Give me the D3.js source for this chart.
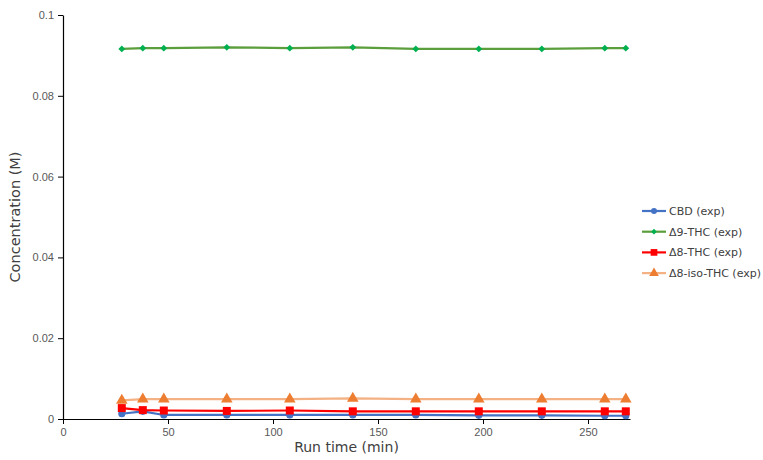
<!DOCTYPE html>
<html>
<head>
<meta charset="utf-8">
<script src="https://cdn.jsdelivr.net/npm/d3@7"></script>
<style>
  html, body { margin: 0; padding: 0; background: #fff; }
  svg { display: block; font-family: "DejaVu Sans", "Open Sans", sans-serif; }
</style>
</head>
<body>
<svg id="chart" width="763" height="460"></svg>
<script>
// Run times (min) of the samples
const runTimes = [28, 38, 48, 78, 108, 138, 168, 198, 228, 258, 268];

// Measured concentrations (M)
const cbd      = [0.0013, 0.0019, 0.0010, 0.0010, 0.0010, 0.0010, 0.0010, 0.0009, 0.0009, 0.0008, 0.0008];
const d9thc    = [0.0916, 0.0918, 0.0918, 0.0920, 0.0918, 0.0920, 0.0916, 0.0916, 0.0916, 0.0918, 0.0918];
const d8thc    = [0.0027, 0.0022, 0.0021, 0.0020, 0.0021, 0.0019, 0.0019, 0.0019, 0.0019, 0.0019, 0.0019];
const d8isothc = [0.0046, 0.0049, 0.0049, 0.0049, 0.0049, 0.0051, 0.0049, 0.0049, 0.0049, 0.0049, 0.0049];

const seriesNames = ["CBD (exp)", "\u03949-THC (exp)", "\u03948-THC (exp)", "\u03948-iso-THC (exp)"];

const xTicks = [0, 50, 100, 150, 200, 250];
const yTicks = [0, 0.02, 0.04, 0.06, 0.08, 0.1];

const series = [
  { name: seriesNames[0], values: cbd,      line: "#4472C4", fill: "#4472C4", symbol: d3.symbolCircle,   size: 40 },
  { name: seriesNames[1], values: d9thc,    line: "#5B9E3C", fill: "#00B050", symbol: d3.symbolDiamond2, size: 30 },
  { name: seriesNames[2], values: d8thc,    line: "#FF0000", fill: "#FF0000", symbol: d3.symbolSquare,   size: 64 },
  { name: seriesNames[3], values: d8isothc, line: "#F4B183", fill: "#ED7D31", symbol: d3.symbolTriangle, size: 58 }
];

const svg = d3.select("#chart");
const margin = { left: 63, right: 133, top: 15, bottom: 41 };
const W = 763, H = 460;

const x = d3.scaleLinear().domain([0, 270]).range([margin.left, W - margin.right]);
const y = d3.scaleLinear().domain([0, 0.1]).range([H - margin.bottom, margin.top]);

// Axes
const xAxis = svg.append("g")
  .attr("transform", `translate(0,${y(0)})`)
  .call(d3.axisBottom(x).tickValues(xTicks).tickSizeInner(5).tickSizeOuter(0).tickPadding(4).tickFormat(d3.format("d")));
const yAxis = svg.append("g")
  .attr("transform", `translate(${x(0)},0)`)
  .call(d3.axisLeft(y).tickValues(yTicks).tickSizeInner(5).tickSizeOuter(0).tickPadding(4).tickFormat(d => d === 0 ? "0" : String(+d.toFixed(2))));

[xAxis, yAxis].forEach(g => {
  g.select(".domain").attr("stroke", "#000").attr("stroke-width", 1.2);
  g.selectAll(".tick line").attr("stroke", "#000");
  g.selectAll(".tick text").attr("fill", "#595959").style("font-size", "11px");
});

// Axis titles
svg.append("text")
  .attr("x", (x(0) + x(270)) / 2).attr("y", 452)
  .attr("text-anchor", "middle")
  .attr("fill", "#404040").style("font-size", "14px")
  .text("Run time (min)");
svg.append("text")
  .attr("transform", `translate(20,${(y(0) + y(0.1)) / 2}) rotate(-90)`)
  .attr("text-anchor", "middle")
  .attr("fill", "#404040").style("font-size", "14.5px")
  .text("Concentration (M)");

// Series lines and markers
const line = d3.line().x((d, i) => x(runTimes[i])).y(d => y(d));
series.forEach(s => {
  const g = svg.append("g");
  g.append("path")
    .datum(s.values)
    .attr("d", line)
    .attr("fill", "none")
    .attr("stroke", s.line)
    .attr("stroke-width", 2.2)
    .attr("stroke-linejoin", "round");
  g.selectAll("path.pt")
    .data(s.values)
    .join("path")
    .attr("class", "pt")
    .attr("transform", (d, i) => `translate(${x(runTimes[i])},${y(d)})`)
    .attr("d", d3.symbol().type(s.symbol).size(s.size))
    .attr("fill", s.fill);
});

// Legend
const legend = svg.append("g").attr("transform", "translate(642,211)");
series.forEach((s, i) => {
  const row = legend.append("g").attr("transform", `translate(0,${i * 20.7})`);
  row.append("line").attr("x1", 0).attr("x2", 24).attr("y1", 0).attr("y2", 0)
    .attr("stroke", s.line).attr("stroke-width", 2.2);
  row.append("path").attr("transform", "translate(12,0)")
    .attr("d", d3.symbol().type(s.symbol).size(s.size * 0.7))
    .attr("fill", s.fill);
  row.append("text").attr("x", 27).attr("y", 0).attr("dy", "0.35em")
    .attr("fill", "#404040").style("font-size", "11px")
    .text(s.name);
});
</script>
</body>
</html>
